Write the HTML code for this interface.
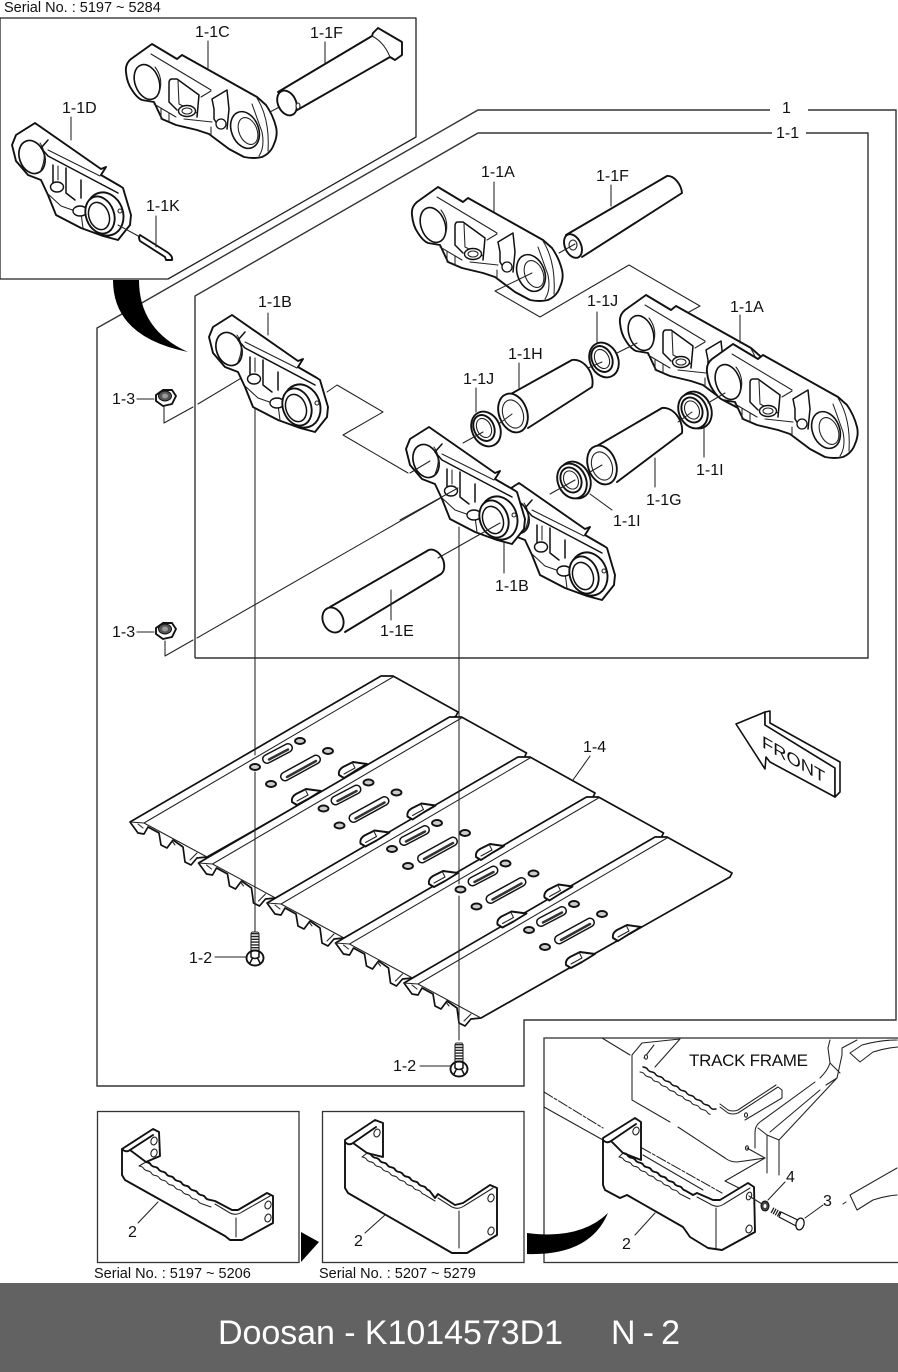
<!DOCTYPE html>
<html><head><meta charset="utf-8"><style>
html,body{margin:0;padding:0;background:#fff}
svg{display:block}
text{font-family:"Liberation Sans",sans-serif;fill:#111;font-size:16px}
.b{fill:#fff;stroke:#111;stroke-width:1.9;stroke-linejoin:round;stroke-linecap:round}
.n{fill:none;stroke:#111;stroke-width:1.9;stroke-linejoin:round;stroke-linecap:round}
.m{fill:none;stroke:#111;stroke-width:1.5;stroke-linejoin:round;stroke-linecap:round}
.t{fill:none;stroke:#222;stroke-width:1.05;stroke-linecap:round;stroke-linejoin:round}
.w{fill:#fff;stroke:#222;stroke-width:1.1}
.f{fill:none;stroke:#333;stroke-width:1.4}
</style></head><body>
<svg xmlns="http://www.w3.org/2000/svg" width="898" height="1372" viewBox="0 0 898 1372">
<defs>
<g id="linkA">
<path class="b" d="M438,187 L417,202 Q411,207 412,215 Q413,226 418,233 Q423,241 428,243 L440,245 L448,262 L462,268 L483,273 L495,277 L515,292 L530,300 Q540,302 548,300 Q557,296 560,287 Q564,278 562,270 Q559,258 552,248 L543,240 L468,198 L463,202 Z"/>
<ellipse class="b" style="stroke-width:1.6" cx="433" cy="225" rx="12" ry="18" transform="rotate(-20 433 225)"/>
<path class="t" d="M441,210 Q450,222 445,236"/>
<ellipse class="b" style="stroke-width:1.6" cx="531" cy="273" rx="13.500" ry="19" transform="rotate(-22 531 273)"/>
<ellipse class="t" cx="534" cy="274" rx="9" ry="14" transform="rotate(-22 534 274)"/>
<path class="t" d="M538,247 L548,275 Q551,290 545,299 M543,241 Q556,262 554,294"/>
<path class="m" d="M458,222 Q455,222 455,226 L455,245 L463,253 M458,222 L463,222 L485,238 L483,260"/>
<path class="t" d="M464,224 L465,247 L483,256 M497,234 L487,240"/>
<ellipse class="b" style="stroke-width:1.4" cx="473" cy="254" rx="8.500" ry="5.500"/>
<ellipse class="t" cx="473" cy="254" rx="5" ry="3"/>
<path class="m" d="M498,242 L508,236 L513,233 L515,252 L513,272 M498,242 L500,252 L500,262 L505,270"/>
<ellipse class="b" style="stroke-width:1.3" cx="507" cy="267" rx="5" ry="5"/>
<path class="t" d="M437,197 L497,233"/>
<path class="t" d="M440,247 L462,260 M447,252 L447,262 M455,256 L455,265 M470,262 L498,265 M497,270 L497,279"/>
</g>
<g id="linkB">
<path class="b" d="M232,315 L298,361 L303,359 L298,367 L317,378 L320,380 L328,407 L327,417 L315,432 L300,428 L278,420 L253,407 L245,387 L238,372 L225,367 L213,353 L209,337 L213,327 Z"/>
<ellipse class="b" style="stroke-width:1.7" cx="229" cy="349" rx="12.500" ry="17" transform="rotate(-20 229 349)"/>
<path class="t" d="M237,335 Q245,346 238,362"/>
<path class="m" d="M245,332 L238,340 L245,348 L315,385"/>
<path class="t" d="M245,342 L297,368"/>
<path class="m" d="M250,357 L250,375 M263,360 L263,385 L272,392 M278,372 L278,390"/>
<path class="t" d="M255,358 L255,372 M245,386 L258,398 L278,405 L280,420"/>
<ellipse class="b" style="stroke-width:1.4" cx="254" cy="379" rx="6.500" ry="5"/>
<ellipse class="b" style="stroke-width:1.4" cx="277" cy="403" rx="7" ry="5"/>
<ellipse class="b" cx="302" cy="406" rx="18" ry="22" transform="rotate(-20 302 406)"/>
<ellipse class="b" cx="297" cy="407" rx="14" ry="19" transform="rotate(-20 297 407)"/>
<ellipse class="m" style="fill:#fff" cx="296" cy="408" rx="10" ry="14" transform="rotate(-20 296 408)"/>
<circle class="w" cx="317" cy="403" r="2"/>
</g>
<g id="plate">
<path class="b" style="stroke-width:1.7" d="M130,822 L381,676 L393,676 L458,712 L456,716 L207,857 L197,858 L191,865 L185,862 L183,847 L173,840 L167,848 L161,845 L159,833 L148,827 L144,834 L138,833 Z"/>
<path class="t" d="M130,822 L144,823 L207,857 M144,823 L393,677"/>
<path class="t" d="M138,824 L143,828 M172,841 L175,845 M190,860 L197,853"/>
</g>
<g id="holes">
<path d="M267,759 L288,748" fill="none" stroke="#111" stroke-width="10" stroke-linecap="round"/>
<path d="M267,759 L288,748" fill="none" stroke="#fff" stroke-width="7" stroke-linecap="round"/>
<path d="M269,759.500 L288,749.500" fill="none" stroke="#333" stroke-width="2.500" stroke-linecap="round"/>
<path d="M285,776.500 L316,759.500" fill="none" stroke="#111" stroke-width="10" stroke-linecap="round"/>
<path d="M285,776.500 L316,759.500" fill="none" stroke="#fff" stroke-width="7" stroke-linecap="round"/>
<path d="M287,777 L316,761" fill="none" stroke="#333" stroke-width="2.500" stroke-linecap="round"/>
<ellipse class="b" style="stroke-width:1.9;fill:#ccc" cx="300" cy="741" rx="5" ry="3"/>
<ellipse class="b" style="stroke-width:1.9;fill:#ccc" cx="328" cy="751" rx="5" ry="3"/>
<ellipse class="b" style="stroke-width:1.9;fill:#ccc" cx="255" cy="767" rx="5" ry="3"/>
<ellipse class="b" style="stroke-width:1.9;fill:#ccc" cx="271" cy="784" rx="5" ry="3"/>
<path class="b" d="M339,775 Q338,770 343,767 L353,762 L367,764 L355,771 L344,778 Z"/>
<path class="t" d="M352,762 L355,768 L344,774"/>
<path class="b" d="M292,802 Q291,797 296,794 L306,789 L321,791 L308,799 L297,805 Z"/>
<path class="t" d="M305,789 L308,795 L297,801"/>
</g>
<g id="nut">
<polygon class="b" points="-10,-3 -3,-8 6,-8 10,-2 6,6 -3,8 -10,3"/>
<ellipse cx="-1" cy="-2" rx="6.500" ry="5" fill="#555" stroke="#111"/>
<ellipse cx="-1" cy="-2" rx="3" ry="2.500" fill="#999"/>
</g>
<g id="bolt">
<rect class="w" x="-4" y="-25" width="8" height="20" rx="2"/>
<path d="M0,-24 V-4" fill="none" stroke="#222" stroke-width="7" stroke-dasharray="1.400 1.400"/>
<ellipse class="b" cx="0" cy="1" rx="8.500" ry="7.500"/>
<path class="m" d="M-4,-6 L-4,0 Q0,3 4,0 L4,-6 M-5,6 L-3,2 M5,6 L3,2"/>
</g>
</defs>

<!-- plates -->
<use href="#plate"/>
<use href="#plate" transform="translate(68.500,41)"/>
<use href="#plate" transform="translate(137,81)"/>
<use href="#plate" transform="translate(205.500,121)"/>
<use href="#plate" transform="translate(274,161)"/>
<use href="#holes"/>
<use href="#holes" transform="translate(68.500,41.500)"/>
<use href="#holes" transform="translate(137,82)"/>
<use href="#holes" transform="translate(205.500,122.500)"/>
<use href="#holes" transform="translate(274,163)"/>

<!-- frames -->
<path class="f" d="M140,304 L478,110 H770 M808,110 H896 V1020 H524 V1086 H97 V328 L122,314"/>
<path class="f" d="M195,658 V296 L478,133 H772 M806,133 H868 V658 H195"/>
<path class="b" style="stroke:#222;stroke-width:1.3" d="M0,18 H416 V137 L168,279 H0 Z" fill="#fff"/>
<path d="M113,280 Q113,337 188,352 Q139,330 139,280 Z" fill="#000"/>

<!-- assembly lines -->
<path class="t" d="M689,312 L700,306 L629,265 L540,317 L495,291"/>
<path class="t" d="M327,392 L337,385 L383,412 L343,435 L408,473"/>
<path class="t" d="M164,407 V423 L193,407 M198,404 L258,368"/>
<path class="t" d="M165,641 V656 L193,640 M197,638 L458,488"/>
<path class="t" d="M255,408 V755 M255,772 V932"/>
<path class="t" d="M459,527 V884 M459,896 V1040"/>

<!-- inset parts -->
<use href="#linkA" transform="translate(-286,-143)"/>
<use href="#linkB" transform="translate(-197,-192)"/>
<path class="t" d="M270,112 L285,104"/>
<path class="b" d="M278,92 L372,36 L373,33 L378,28 L402,42 L402,55 L395,60 L390,57 L292,113"/>
<path class="t" d="M372,36 Q384,42 390,57"/>
<ellipse class="b" cx="287" cy="103" rx="9" ry="13" transform="rotate(-25 287 103)"/>
<ellipse class="w" cx="298" cy="106" rx="2" ry="3"/>
<path class="t" d="M118,225 L140,237"/>
<path class="b" d="M140,235 L167,252 Q173,256 172,260 L166,260 L165,257 L140,241 Q138,237 140,235 Z"/>

<!-- link chain parts -->
<use href="#linkA"/>
<use href="#linkA" transform="translate(208,108)"/>
<use href="#linkA" transform="translate(295,157)"/>
<use href="#linkB"/>
<use href="#linkB" transform="translate(287,168)"/>
<use href="#linkB" transform="translate(197,112)"/>
<path class="t" d="M532,273 L495,291"/>
<path class="t" d="M410,473 L430,461 M400,520 L458,488"/>

<!-- F pin -->
<path class="b" d="M566,235 L667,176 A10,15 -25 0 1 682,193 L582,257"/>
<ellipse class="b" cx="573" cy="246" rx="8" ry="12.500" transform="rotate(-25 573 246)"/>
<ellipse class="w" cx="573" cy="245" rx="4" ry="5"/>
<path class="t" d="M559,253 L575,244"/>
<!-- H -->
<path class="b" d="M500,400 L572,360 A14,19 -25 0 1 592,387 L528,428"/>
<ellipse class="b" cx="513" cy="413" rx="14" ry="20" transform="rotate(-20 513 413)"/>
<ellipse class="w" cx="513" cy="414" rx="10" ry="14.500" transform="rotate(-20 513 414)"/>
<!-- G -->
<path class="b" d="M590,450 L662,408 A14,19 -25 0 1 682,433 L617,482"/>
<ellipse class="b" cx="602" cy="465" rx="14" ry="20" transform="rotate(-20 602 465)"/>
<ellipse class="w" cx="602" cy="466" rx="10" ry="14.500" transform="rotate(-20 602 466)"/>
<!-- E -->
<path class="b" d="M330,607 L427,551 A9,13 -25 0 1 441,574 L345,632"/>
<ellipse class="b" cx="333" cy="620" rx="10" ry="13" transform="rotate(-25 333 620)"/>
<!-- seals J -->
<g id="sealJ">
<ellipse class="b" cx="486" cy="429" rx="14" ry="18" transform="rotate(-25 486 429)"/>
<ellipse class="n" cx="484" cy="428" rx="10" ry="13.500" transform="rotate(-25 484 428)"/>
<ellipse class="w" cx="484" cy="428" rx="7" ry="10" transform="rotate(-25 484 428)"/>
</g>
<use href="#sealJ" transform="translate(118,-69)"/>
<!-- seals I -->
<g id="sealI">
<ellipse class="b" cx="575" cy="480" rx="15" ry="19" transform="rotate(-25 575 480)"/>
<ellipse class="b" cx="572" cy="481" rx="14" ry="18" transform="rotate(-25 572 481)"/>
<ellipse class="n" cx="571" cy="480" rx="10" ry="13" transform="rotate(-25 571 480)"/>
<ellipse class="w" cx="571" cy="480" rx="7" ry="9.500" transform="rotate(-25 571 480)"/>
</g>
<use href="#sealI" transform="translate(121,-70)"/>
<!-- connection lines over parts -->
<path class="t" d="M617,353 L637,343 M588,368 L602,362 M463,443 L483,432 M500,423 L512,414 M550,494 L575,480 M590,472 L602,465 M678,422 L692,412 M708,403 L725,393 M438,558 L500,523"/>
<!-- nuts and bolts -->
<use href="#nut" transform="translate(166,398)"/>
<use href="#nut" transform="translate(166,631)"/>
<use href="#bolt" transform="translate(255,957)"/>
<use href="#bolt" transform="translate(459,1068)"/>

<!-- leaders -->
<path class="t" d="M208,41 V68 M325,42 V63 M71,117 V140 M156,216 V247 M268,313 V335 M137,399 H154 M137,632 H154 M494,182 V212 M611,185 V206 M597,312 V343 M740,315 V343 M519,363 V388 M476,388 V412 M704,428 V457 M655,458 V487 M612,510 L590,494 M504,542 V573 M391,590 V620 M590,756 L573,780 M215,957 H246 M420,1066 H450"/>

<!-- FRONT arrow -->
<polygon class="b" style="stroke-width:1.6" points="736,724 765,712 765,725 835,768 835,797 770,762 766,757 765,769"/>
<path class="b" style="stroke-width:1.6" d="M765,712 L770,711 L770,723 L840,762 L840,792 L835,797 V768 L765,725 Z"/>
<text transform="matrix(1.08,0.625,0,1,762,747)" style="font-size:17px">FRONT</text>

<!-- bottom boxes -->
<rect x="97.500" y="1111.500" width="201.500" height="151" fill="#fff" stroke="#333" stroke-width="1.3"/>
<rect x="322.500" y="1111.500" width="201.500" height="151" fill="#fff" stroke="#333" stroke-width="1.3"/>
<rect x="544" y="1038" width="360" height="224.500" fill="#fff" stroke="#333" stroke-width="1.3"/>
<polygon points="301,1232 319,1242 301,1262" fill="#000"/>
<path d="M527,1233 Q580,1240 608,1213 Q590,1256 527,1254 Z" fill="#000"/>

<!-- step 1 -->
<path class="b" d="M122,1149 L153,1129 L159,1132 L160,1156 L146,1162 q4,.5 5,3 q1.500,1.500 2.800,1.700 q4,.5 5,3 q1.500,1.500 2.800,1.700 q4,.5 5,3 q1.500,1.500 2.800,1.700 q4,.5 5,3 q1.500,1.500 2.800,1.700 q4,.5 5,3 q1.500,1.500 2.800,1.700 q4,.5 5,3 q1.500,1.500 2.800,1.700 q4,.5 5,3 q1.500,1.500 2.800,1.700 q4,.5 5,3 q1.500,1.500 2.800,1.700 L215,1201 L232,1210 L238,1210 L267,1193 L273,1196 L273,1223 L242,1240 L230,1240 L225,1236 L125,1180 L122,1175 Z"/>
<path class="n" d="M122,1149 Q126,1153 130,1150 L153,1135 M130,1150 L146,1162"/>
<path class="t" d="M139,1166 q4,.5 5,3 q1.500,1.500 2.800,1.700 q4,.5 5,3 q1.500,1.500 2.800,1.700 q4,.5 5,3 q1.500,1.500 2.800,1.700 q4,.5 5,3 q1.500,1.500 2.800,1.700 q4,.5 5,3 q1.500,1.500 2.800,1.700 q4,.5 5,3 q1.500,1.500 2.800,1.700 q4,.5 5,3 q1.500,1.500 2.800,1.700 q4,.5 5,3 q1.500,1.500 2.800,1.700 L211,1207 M139,1166 L146,1162"/>
<path class="t" d="M215,1204 L230,1213 Q236,1216 242,1212 L270,1196 M236,1218 V1237"/>
<ellipse class="w" cx="154" cy="1141" rx="3" ry="4" transform="rotate(20 154 1141)"/>
<ellipse class="w" cx="154" cy="1153" rx="3" ry="4" transform="rotate(20 154 1153)"/>
<ellipse class="w" cx="268" cy="1205" rx="3" ry="4" transform="rotate(20 268 1205)"/>
<ellipse class="w" cx="268" cy="1218" rx="3" ry="4" transform="rotate(20 268 1218)"/>
<path class="t" d="M138,1223 L158,1202"/>

<!-- step 2 -->
<path class="b" d="M345,1140 L375,1120 L383,1123 L383,1157 L367,1153 q4,.5 5,3 q1.500,1.500 2.800,1.700 q4,.5 5,3 q1.500,1.500 2.800,1.700 q4,.5 5,3 q1.500,1.500 2.800,1.700 q4,.5 5,3 q1.500,1.500 2.800,1.700 q4,.5 5,3 q1.500,1.500 2.800,1.700 q4,.5 5,3 q1.500,1.500 2.800,1.700 q4,.5 5,3 q1.500,1.500 2.800,1.700 q4,.5 5,3 q1.500,1.500 2.800,1.700 L435,1198 L438,1194 L455,1205 L463,1203 L490,1185 L497,1188 L497,1235 L467,1253 L452,1253 L348,1193 L345,1188 Z"/>
<path class="n" d="M345,1142 Q349,1146 353,1143 L376,1127 M353,1143 L367,1153"/>
<path class="t" d="M362,1157 q4,.5 5,3 q1.500,1.500 2.800,1.700 q4,.5 5,3 q1.500,1.500 2.800,1.700 q4,.5 5,3 q1.500,1.500 2.800,1.700 q4,.5 5,3 q1.500,1.500 2.800,1.700 q4,.5 5,3 q1.500,1.500 2.800,1.700 q4,.5 5,3 q1.500,1.500 2.800,1.700 q4,.5 5,3 q1.500,1.500 2.800,1.700 q4,.5 5,3 q1.500,1.500 2.800,1.700 L435,1201 M362,1157 L367,1153"/>
<path class="t" d="M438,1198 L452,1207 Q458,1210 464,1206 L493,1188 M459,1211 V1248"/>
<ellipse class="w" cx="377" cy="1133" rx="3" ry="4" transform="rotate(20 377 1133)"/>
<ellipse class="w" cx="491" cy="1198" rx="3" ry="4" transform="rotate(20 491 1198)"/>
<ellipse class="w" cx="491" cy="1231" rx="3" ry="4" transform="rotate(20 491 1231)"/>
<path class="t" d="M365,1233 L385,1215"/>

<!-- box 3 background frame -->
<path class="t" d="M602,1038 L630,1055 M632,1055 V1100 M632,1100 L670,1122 M678,1127 L725,1158 Q730,1162 737,1162 Q752,1160 765,1158 M632,1055 L642,1043 L680,1039 M644,1058 L654,1045 M655,1067 L680,1039 M720,1107 L728,1113 Q733,1115 738,1113 L778,1087 L782,1090 V1098 L745,1120 M720,1104 L728,1110 Q733,1112 738,1110 L776,1085"/>
<path class="m" d="M643,1067 q4,.5 5,3 q1.500,1.500 2.800,1.700 q4,.5 5,3 q1.500,1.500 2.800,1.700 q4,.5 5,3 q1.500,1.500 2.800,1.700 q4,.5 5,3 q1.500,1.500 2.800,1.700 q4,.5 5,3 q1.500,1.500 2.800,1.700 q4,.5 5,3 q1.500,1.500 2.800,1.700 q4,.5 5,3 q1.500,1.500 2.800,1.700 q4,.5 5,3 q1.500,1.500 2.800,1.700 q4,.5 5,3 q1.500,1.500 2.800,1.700 L716,1109"/>
<path class="t" d="M640,1072 q4,.5 5,3 q1.500,1.500 2.800,1.700 q4,.5 5,3 q1.500,1.500 2.800,1.700 q4,.5 5,3 q1.500,1.500 2.800,1.700 q4,.5 5,3 q1.500,1.500 2.800,1.700 q4,.5 5,3 q1.500,1.500 2.800,1.700 q4,.5 5,3 q1.500,1.500 2.800,1.700 q4,.5 5,3 q1.500,1.500 2.800,1.700 q4,.5 5,3 q1.500,1.500 2.800,1.700 q4,.5 5,3 q1.500,1.500 2.800,1.700"/>
<ellipse class="w" cx="746" cy="1115" rx="1.500" ry="2.200"/>
<ellipse class="w" cx="646" cy="1057" rx="1.500" ry="2.200"/>
<ellipse class="w" cx="747" cy="1148" rx="1.500" ry="2.200"/>
<path class="t" d="M747,1148 L765,1158 L725,1181 L747,1192"/>
<path class="t" d="M830,1040 L828,1048 L830,1063 Q828,1070 820,1078 M815,1082 L760,1122 Q755,1126 755,1132 V1148 M770,1132 L820,1090 M826,1085 L837,1078 L842,1055 L842,1048 L857,1040 M767,1135 V1173 M779,1140 V1175 M758,1128 L767,1135 L779,1140 L837,1078 M830,1063 L840,1073"/>
<path class="t" d="M850,1053 L862,1045 Q880,1040 897,1040 M850,1053 L860,1062 L873,1052 Q885,1048 898,1047"/>
<path class="t" d="M850,1195 L897,1168 M850,1195 L857,1210 L873,1200 Q885,1196 897,1195"/>
<path class="t" stroke-dasharray="10 2 3 2" d="M544,1092 L603,1128 M642,1148 L722,1193"/>
<path class="t" d="M544,1107 L603,1140 M643,1155 L703,1190"/>
<path class="t" d="M843,1204 L846,1202"/>

<!-- step 3 -->
<path class="b" d="M603,1138 L635,1118 L641,1122 L641,1160 L623,1153 q4,.5 5,3 q1.500,1.500 2.800,1.700 q4,.5 5,3 q1.500,1.500 2.800,1.700 q4,.5 5,3 q1.500,1.500 2.800,1.700 q4,.5 5,3 q1.500,1.500 2.800,1.700 q4,.5 5,3 q1.500,1.500 2.800,1.700 q4,.5 5,3 q1.500,1.500 2.800,1.700 q4,.5 5,3 q1.500,1.500 2.800,1.700 q4,.5 5,3 q1.500,1.500 2.800,1.700 L693,1195 L697,1193 L713,1200 L720,1200 L748,1183 L754,1187 L755,1232 L722,1250 L708,1248 L690,1237 L683,1227 L627,1195 L620,1198 L605,1190 L603,1185 Z"/>
<path class="n" d="M603,1140 Q607,1144 611,1141 L636,1124 M611,1141 L623,1153"/>
<path class="t" d="M619,1157 q4,.5 5,3 q1.500,1.500 2.800,1.700 q4,.5 5,3 q1.500,1.500 2.800,1.700 q4,.5 5,3 q1.500,1.500 2.800,1.700 q4,.5 5,3 q1.500,1.500 2.800,1.700 q4,.5 5,3 q1.500,1.500 2.800,1.700 q4,.5 5,3 q1.500,1.500 2.800,1.700 q4,.5 5,3 q1.500,1.500 2.800,1.700 q4,.5 5,3 q1.500,1.500 2.800,1.700 L690,1199 M619,1157 L623,1153"/>
<path class="t" d="M697,1197 L712,1205 Q718,1208 724,1204 L750,1188 M716,1208 V1248"/>
<ellipse class="w" cx="636" cy="1131" rx="3" ry="4" transform="rotate(20 636 1131)"/>
<ellipse class="w" cx="749" cy="1196" rx="2.500" ry="4" transform="rotate(20 749 1196)"/>
<ellipse class="w" cx="749" cy="1229" rx="3" ry="4" transform="rotate(20 749 1229)"/>
<path class="t" d="M749,1196 L762,1204 M635,1235 L655,1213 M768,1200 L785,1182 M805,1218 L823,1205"/>
<ellipse cx="765" cy="1206" rx="4" ry="5" fill="#444" stroke="#111"/>
<ellipse cx="765" cy="1206" rx="1.500" ry="2" fill="#fff"/>
<path d="M772,1210 L781,1215" stroke="#111" stroke-width="6" fill="none" stroke-dasharray="1.200 1.200"/>
<path class="b" style="stroke-width:1.2" d="M781,1212 L800,1221 L798,1227 L779,1217 Z"/>
<ellipse class="b" style="stroke-width:1.3" cx="800" cy="1224" rx="4" ry="6" transform="rotate(15 800 1224)"/>

<!-- labels -->
<text x="4" y="12" style="font-size:14.500px">Serial No. : 5197 ~ 5284</text>
<text x="195" y="37">1-1C</text>
<text x="310" y="38">1-1F</text>
<text x="62" y="113">1-1D</text>
<text x="146" y="211">1-1K</text>
<text x="258" y="307">1-1B</text>
<text x="112" y="404">1-3</text>
<text x="112" y="637">1-3</text>
<text x="481" y="177">1-1A</text>
<text x="596" y="181">1-1F</text>
<text x="587" y="306">1-1J</text>
<text x="730" y="312">1-1A</text>
<text x="508" y="359">1-1H</text>
<text x="463" y="384">1-1J</text>
<text x="696" y="475">1-1I</text>
<text x="646" y="505">1-1G</text>
<text x="613" y="526">1-1I</text>
<text x="495" y="591">1-1B</text>
<text x="380" y="636">1-1E</text>
<text x="583" y="752">1-4</text>
<text x="189" y="963">1-2</text>
<text x="393" y="1071">1-2</text>
<text x="782" y="113">1</text>
<text x="776" y="138">1-1</text>
<text x="689" y="1066" style="font-size:17px" textLength="119">TRACK FRAME</text>
<text x="128" y="1237">2</text>
<text x="354" y="1246">2</text>
<text x="622" y="1249">2</text>
<text x="786" y="1182">4</text>
<text x="823" y="1206">3</text>
<text x="94" y="1278" style="font-size:14.500px">Serial No. : 5197 ~ 5206</text>
<text x="319" y="1278" style="font-size:14.500px">Serial No. : 5207 ~ 5279</text>

<!-- footer -->
<rect x="0" y="1283" width="898" height="89" fill="#626262"/>
<text x="218" y="1344" style="font-size:34px;fill:#fff" textLength="345">Doosan - K1014573D1</text>
<text x="611" y="1344" style="font-size:34px;fill:#fff" textLength="69">N - 2</text>
</svg>
</body></html>
